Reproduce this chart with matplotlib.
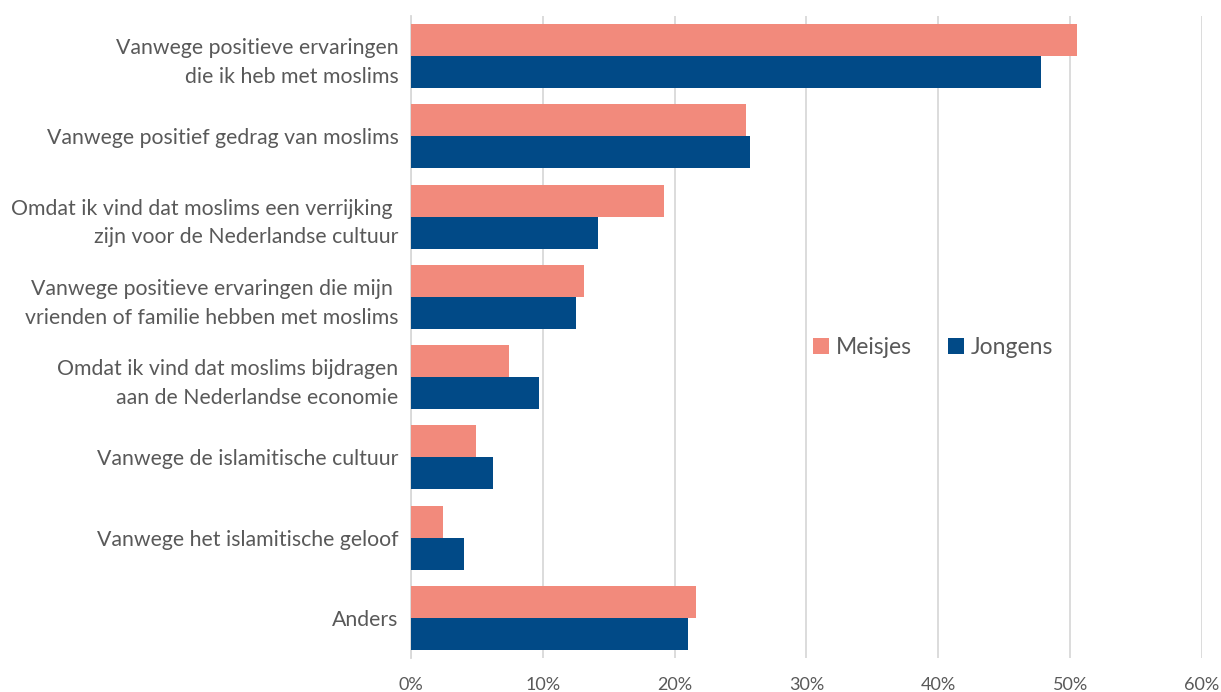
import numpy as np
import matplotlib.pyplot as plt

categories = [
    "Vanwege positieve ervaringen\ndie ik heb met moslims",
    "Vanwege positief gedrag van moslims",
    "Omdat ik vind dat moslims een verrijking \nzijn voor de Nederlandse cultuur",
    "Vanwege positieve ervaringen die mijn \nvrienden of familie hebben met moslims",
    "Omdat ik vind dat moslims bijdragen\naan de Nederlandse economie",
    "Vanwege de islamitische cultuur",
    "Vanwege het islamitische geloof",
    "Anders",
]
meisjes = [50.5, 25.4, 19.2, 13.1, 7.4, 4.9, 2.4, 21.6]
jongens = [47.8, 25.7, 14.2, 12.5, 9.7, 6.2, 4.0, 21.0]
xticks = [0, 10, 20, 30, 40, 50, 60]

pink = "#F28A7C"
navy = "#014A87"
grey = "#595959"

plt.rcParams["font.family"] = ["Lato", "DejaVu Sans"]

fig = plt.figure(figsize=(12.21, 6.92), dpi=100)
ax = fig.add_axes([0.3366, 0.0491, 0.9844 - 0.3366, 0.9769 - 0.0491])

y = np.arange(len(categories))
h = 0.4
ax.barh(y - h / 2, meisjes, height=h, color=pink, label="Meisjes", zorder=3)
ax.barh(y + h / 2, jongens, height=h, color=navy, label="Jongens", zorder=3)

ax.set_ylim(len(categories) - 0.5, -0.5)
ax.set_xlim(0, 60)
ax.set_yticks(y)
ax.set_yticklabels(categories, fontsize=15.3, color=grey, linespacing=1.55)
ax.set_xticks(xticks)
ax.set_xticklabels([f"{t}%" for t in xticks], fontsize=13, color=grey)
ax.tick_params(axis="both", length=0)
ax.tick_params(axis="y", pad=9)
ax.tick_params(axis="x", pad=14)

ax.grid(axis="x", color="#D9D9D9", linewidth=1.3, zorder=0)
for s in ["top", "right", "bottom"]:
    ax.spines[s].set_visible(False)
ax.spines["left"].set_color("#D9D9D9")
ax.spines["left"].set_linewidth(1.3)

leg = ax.legend(loc="center", bbox_to_anchor=(0.66, 0.484), ncol=2, frameon=False,
                fontsize=16.5, handlelength=0.7, handleheight=0.7, handletextpad=0.3,
                columnspacing=1.6)
for t in leg.get_texts():
    t.set_color(grey)

fig.savefig("out.png", dpi=100)
